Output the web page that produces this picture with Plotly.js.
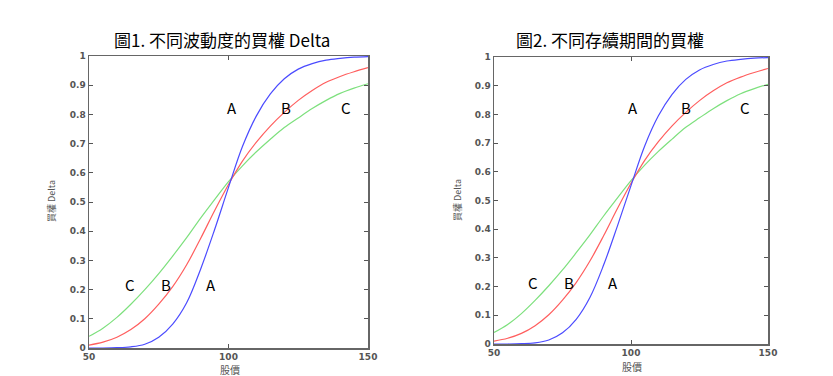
<!DOCTYPE html>
<html>
<head>
<meta charset="utf-8">
<script src="https://cdn.plot.ly/plotly-3.0.1.min.js"></script>
<style>html,body{margin:0;padding:0;background:#fff;}#chart{width:833px;height:376px;}</style>
</head>
<body>
<div id="chart"></div>
<script>
// Stock price (x)
const stockPrice = [50,55,60,65,70,75,80,85,90,95,100,105,110,115,120,125,130,135,140,145,150];

// Figure 1: call delta for different volatilities
const fig1A = [0.000,0.000,0.001,0.004,0.013,0.037,0.082,0.155,0.270,0.405,0.550,0.690,0.795,0.870,0.922,0.955,0.974,0.986,0.992,0.996,0.998];
const fig1B = [0.010,0.020,0.037,0.063,0.100,0.150,0.210,0.285,0.375,0.470,0.560,0.640,0.705,0.760,0.807,0.848,0.882,0.910,0.930,0.946,0.960];
const fig1C = [0.040,0.068,0.105,0.150,0.200,0.255,0.315,0.378,0.445,0.508,0.570,0.624,0.672,0.715,0.755,0.788,0.820,0.848,0.872,0.890,0.905];

// Figure 2: call delta for different times to maturity
const fig2A = [0.000,0.000,0.001,0.004,0.014,0.039,0.086,0.162,0.275,0.410,0.552,0.690,0.795,0.870,0.922,0.955,0.974,0.986,0.992,0.996,0.998];
const fig2B = [0.010,0.020,0.037,0.064,0.102,0.153,0.214,0.289,0.377,0.471,0.560,0.640,0.705,0.760,0.807,0.848,0.882,0.910,0.930,0.946,0.960];
const fig2C = [0.040,0.068,0.106,0.152,0.203,0.258,0.318,0.380,0.446,0.508,0.569,0.623,0.671,0.714,0.755,0.788,0.820,0.848,0.872,0.890,0.905];

const yTicks = [0,0.1,0.2,0.3,0.4,0.5,0.6,0.7,0.8,0.9,1];
const yTickText = ['0','0.1','0.2','0.3','0.4','0.5','0.6','0.7','0.8','0.9','1'];
const xTicks = [50,100,150];
const xTickText = ['50','100','150'];

const titles = ['圖1. 不同波動度的買權 Delta','圖2. 不同存續期間的買權'];
const yTitle = '買權 Delta';
const xTitle = '股價';

const colA = '#4b4bff', colB = '#ff5e5e', colC = '#7de07d';

function tr(x, y, c, xa, ya){
  return {x:x, y:y, type:'scatter', mode:'lines', xaxis:xa, yaxis:ya,
          line:{color:c, width:1.2, shape:'spline', smoothing:1}, hoverinfo:'skip', showlegend:false};
}

const data = [
  tr(stockPrice, fig1C, colC, 'x', 'y'),
  tr(stockPrice, fig1B, colB, 'x', 'y'),
  tr(stockPrice, fig1A, colA, 'x', 'y'),
  tr(stockPrice, fig2C, colC, 'x2', 'y2'),
  tr(stockPrice, fig2B, colB, 'x2', 'y2'),
  tr(stockPrice, fig2A, colA, 'x2', 'y2')
];

const tickFont = {family:'DejaVu Sans', size:9, color:'#555', weight:'bold'};
function xax(dom, anchor){
  return {domain:dom, anchor:anchor, range:[50,150], tickmode:'array', tickvals:xTicks, ticktext:xTickText,
          ticks:'inside', ticklen:4, tickcolor:'#555', mirror:'ticks', showline:true, linecolor:'#666', linewidth:1.5,
          showgrid:false, zeroline:false, tickfont:tickFont, fixedrange:true};
}
function yax(dom, anchor){
  return {domain:dom, anchor:anchor, range:[0,1], tickmode:'array', tickvals:yTicks, ticktext:yTickText,
          ticks:'inside', ticklen:4, tickcolor:'#555', mirror:'ticks', showline:true, linecolor:'#666', linewidth:1.5,
          showgrid:false, zeroline:false, tickfont:tickFont, fixedrange:true};
}

const lblFont = {family:'Noto Sans CJK TC', size:15, color:'#000'};
function lbl(t, x, y, xr, yr){
  return {text:t, x:x, y:y, xref:xr, yref:yr, showarrow:false, font:lblFont, xanchor:'center', yanchor:'middle'};
}

const annotations = [
  {text:titles[0], x:0.2665, y:0.896, xref:'paper', yref:'paper', showarrow:false, xanchor:'center', yanchor:'middle',
   font:{family:'Noto Sans CJK TC', size:17, color:'#000'}},
  {text:titles[1], x:0.732, y:0.896, xref:'paper', yref:'paper', showarrow:false, xanchor:'center', yanchor:'middle',
   font:{family:'Noto Sans CJK TC', size:17, color:'#000'}},
  {text:yTitle, x:52/833, y:(376-201)/376, xref:'paper', yref:'paper', showarrow:false, textangle:-90, xanchor:'center', yanchor:'middle',
   font:{family:'Noto Sans CJK TC', size:9, color:'#555'}},
  {text:yTitle, x:457/833, y:(376-200)/376, xref:'paper', yref:'paper', showarrow:false, textangle:-90, xanchor:'center', yanchor:'middle',
   font:{family:'Noto Sans CJK TC', size:9, color:'#555'}},
  {text:xTitle, x:230/833, y:(376-369)/376, xref:'paper', yref:'paper', showarrow:false, xanchor:'center', yanchor:'middle',
   font:{family:'Noto Sans CJK TC', size:10, color:'#555'}},
  {text:xTitle, x:632/833, y:(376-366)/376, xref:'paper', yref:'paper', showarrow:false, xanchor:'center', yanchor:'middle',
   font:{family:'Noto Sans CJK TC', size:10, color:'#555'}},
  lbl('A', 101.1, 0.825, 'x', 'y'), lbl('B', 120.5, 0.825, 'x', 'y'), lbl('C', 142, 0.825, 'x', 'y'),
  lbl('C', 64.7, 0.216, 'x', 'y'), lbl('B', 77.5, 0.216, 'x', 'y'), lbl('A', 93.7, 0.216, 'x', 'y'),
  lbl('A', 100.6, 0.825, 'x2', 'y2'), lbl('B', 120, 0.825, 'x2', 'y2'), lbl('C', 141.6, 0.825, 'x2', 'y2'),
  lbl('C', 64.4, 0.215, 'x2', 'y2'), lbl('B', 77.4, 0.215, 'x2', 'y2'), lbl('A', 93.5, 0.215, 'x2', 'y2')
];

const layout = {
  width:833, height:376, margin:{l:0, r:0, t:0, b:0},
  paper_bgcolor:'#fff', plot_bgcolor:'#fff', showlegend:false,
  xaxis: xax([89/833, 368/833], 'y'),
  yaxis: yax([(376-348)/376, (376-56)/376], 'x'),
  xaxis2: xax([494/833, 768/833], 'y2'),
  yaxis2: yax([(376-344)/376, (376-57)/376], 'x2'),
  annotations: annotations
};

Plotly.newPlot('chart', data, layout, {staticPlot:true, displayModeBar:false});
</script>
</body>
</html>
